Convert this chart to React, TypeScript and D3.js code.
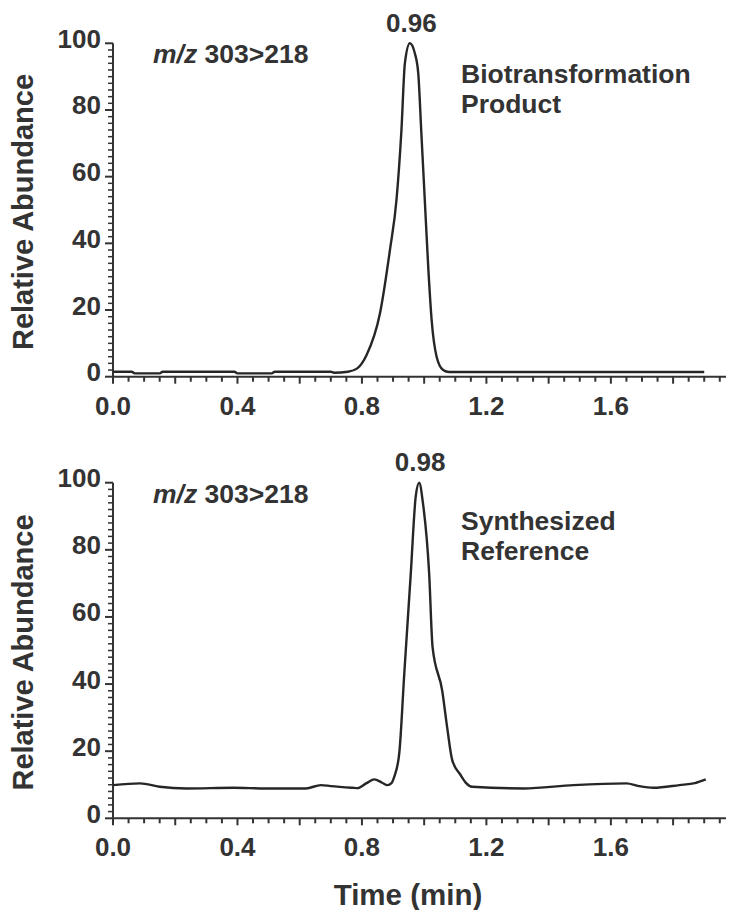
import React, { useRef, useEffect } from 'react';
import * as d3 from 'd3';

// top panel: biotransformation product
const topTime = [0, 0.06, 0.07, 0.15, 0.16, 0.39, 0.4, 0.51, 0.52, 0.7, 0.71, 0.755, 0.785, 0.815, 0.858, 0.89, 0.911, 0.927, 0.938, 0.954, 0.97, 0.981, 0.991, 1.002, 1.013, 1.024, 1.04, 1.061, 1.08, 1.9];
const topAbundance = [1.5, 1.5, 1.0, 1.0, 1.5, 1.5, 1.0, 1.0, 1.5, 1.5, 1.2, 1.5, 2.5, 6.5, 19, 38, 53, 74, 94, 100, 97, 91, 73, 53, 33, 17, 6, 2, 1.4, 1.4];

// bottom panel: synthesized reference
const bottomTime = [0, 0.087, 0.15, 0.237, 0.387, 0.49, 0.62, 0.668, 0.7, 0.77, 0.786, 0.815, 0.84, 0.865, 0.882, 0.895, 0.904, 0.92, 0.936, 0.957, 0.973, 0.984, 0.996, 1.016, 1.027, 1.058, 1.074, 1.09, 1.117, 1.135, 1.154, 1.32, 1.48, 1.65, 1.69, 1.737, 1.82, 1.87, 1.905];
const bottomAbundance = [9.9, 10.4, 9.4, 8.9, 9.1, 8.9, 8.9, 9.9, 9.6, 9.1, 9.0, 10.5, 11.6, 10.6, 9.9, 10.5, 12.4, 19.4, 43, 73, 96, 100, 94, 73, 51, 38, 27, 17.4, 12.9, 10.5, 9.4, 8.9, 9.9, 10.4, 9.6, 9.1, 9.9, 10.5, 11.6];

const xTicks = [0.0, 0.4, 0.8, 1.2, 1.6];
const yTicks = [0, 20, 40, 60, 80, 100];

const panels = [
  { time: topTime, abundance: topAbundance, peak: '0.96', peakAt: 0.962, label: ['Biotransformation', 'Product'], top: 43.3, bottom: 376.7, labelY: 83.3 },
  { time: bottomTime, abundance: bottomAbundance, peak: '0.98', peakAt: 0.99, label: ['Synthesized', 'Reference'], top: 482.7, bottom: 818.3, labelY: 530 },
];

const FONT = '"Liberation Sans", Arial, Helvetica, sans-serif';
const INK = '#333333';

const App: React.FC = () => {
  const svgRef = useRef<SVGSVGElement | null>(null);

  useEffect(() => {
    if (!svgRef.current) return;
    const svg = d3.select(svgRef.current);
    svg.selectAll('*').remove();

    const width = 730;
    const height = 910;
    svg.attr('width', width).attr('height', height).attr('viewBox', `0 0 ${width} ${height}`);

    const x = d3.scaleLinear().domain([0, 1.97]).range([113, 726]);

    panels.forEach((p) => {
      const y = d3.scaleLinear().domain([0, 100]).range([p.bottom, p.top]);
      const g = svg.append('g');

      // x axis
      g.append('line')
        .attr('x1', x(0)).attr('x2', x(1.97))
        .attr('y1', y(0)).attr('y2', y(0))
        .attr('stroke', INK).attr('stroke-width', 2);
      d3.range(0, 40).forEach((i) => {
        const t = i * 0.05;
        const major = i % 4 === 0;
        g.append('line')
          .attr('x1', x(t)).attr('x2', x(t))
          .attr('y1', y(0)).attr('y2', y(0) + (major ? 7 : 5))
          .attr('stroke', INK).attr('stroke-width', 2);
      });
      g.selectAll('text.xt')
        .data(xTicks)
        .enter()
        .append('text')
        .attr('class', 'xt')
        .attr('x', (d) => x(d))
        .attr('y', y(0) + 38)
        .attr('text-anchor', 'middle')
        .attr('font-family', FONT).attr('font-weight', 'bold').attr('font-size', 26)
        .attr('fill', INK)
        .text((d) => d.toFixed(1));

      // y axis
      g.append('line')
        .attr('x1', x(0)).attr('x2', x(0))
        .attr('y1', y(0)).attr('y2', y(100))
        .attr('stroke', INK).attr('stroke-width', 2);
      d3.range(0, 51).forEach((i) => {
        const v = i * 2;
        const major = v % 20 === 0;
        g.append('line')
          .attr('x1', x(0)).attr('x2', x(0) - (major ? 8 : 5))
          .attr('y1', y(v)).attr('y2', y(v))
          .attr('stroke', INK).attr('stroke-width', major ? 2 : 1.5);
      });
      g.selectAll('text.yt')
        .data(yTicks)
        .enter()
        .append('text')
        .attr('class', 'yt')
        .attr('x', 101)
        .attr('y', (d) => y(d) + 4.5)
        .attr('text-anchor', 'end')
        .attr('font-family', FONT).attr('font-weight', 'bold').attr('font-size', 26)
        .attr('fill', INK)
        .text((d) => String(d));

      // y axis title
      g.append('text')
        .attr('transform', `translate(33,${(p.top + p.bottom) / 2 + 2}) rotate(-90)`)
        .attr('text-anchor', 'middle')
        .attr('font-family', FONT).attr('font-weight', 'bold').attr('font-size', 29)
        .attr('fill', INK)
        .text('Relative Abundance');

      // trace
      const pts = p.time.map((t, i) => [t, p.abundance[i]] as [number, number]);
      const line = d3.line<[number, number]>()
        .x((d) => x(d[0]))
        .y((d) => y(d[1]))
        .curve(d3.curveMonotoneX);
      g.append('path')
        .attr('d', line(pts))
        .attr('fill', 'none')
        .attr('stroke', '#262626')
        .attr('stroke-width', 2.4)
        .attr('stroke-linejoin', 'round');

      // annotations
      const mz = g.append('text')
        .attr('x', 153).attr('y', p.top + 20)
        .attr('font-family', FONT).attr('font-weight', 'bold').attr('font-size', 26.5)
        .attr('fill', INK);
      mz.append('tspan').attr('font-style', 'italic').text('m/z');
      mz.append('tspan').text(' 303>218');

      g.append('text')
        .attr('x', x(p.peakAt) - 1).attr('y', p.top - 11.5)
        .attr('text-anchor', 'middle')
        .attr('font-family', FONT).attr('font-weight', 'bold').attr('font-size', 26)
        .attr('fill', INK)
        .text(p.peak);

      p.label.forEach((s, i) => {
        g.append('text')
          .attr('x', 461)
          .attr('y', p.labelY + i * 29.5)
          .attr('font-family', FONT).attr('font-weight', 'bold').attr('font-size', 26.5)
          .attr('fill', INK)
          .text(s);
      });
    });

    // x axis title
    svg.append('text')
      .attr('x', 408).attr('y', 905)
      .attr('text-anchor', 'middle')
      .attr('font-family', FONT).attr('font-weight', 'bold').attr('font-size', 29.5)
      .attr('fill', INK)
      .text('Time (min)');
  }, []);

  return (
    <div style={{ position: 'absolute', left: 0, top: 0, width: 730, height: 910, background: '#fff' }}>
      <svg ref={svgRef} style={{ display: 'block' }} />
    </div>
  );
};

export default App;
